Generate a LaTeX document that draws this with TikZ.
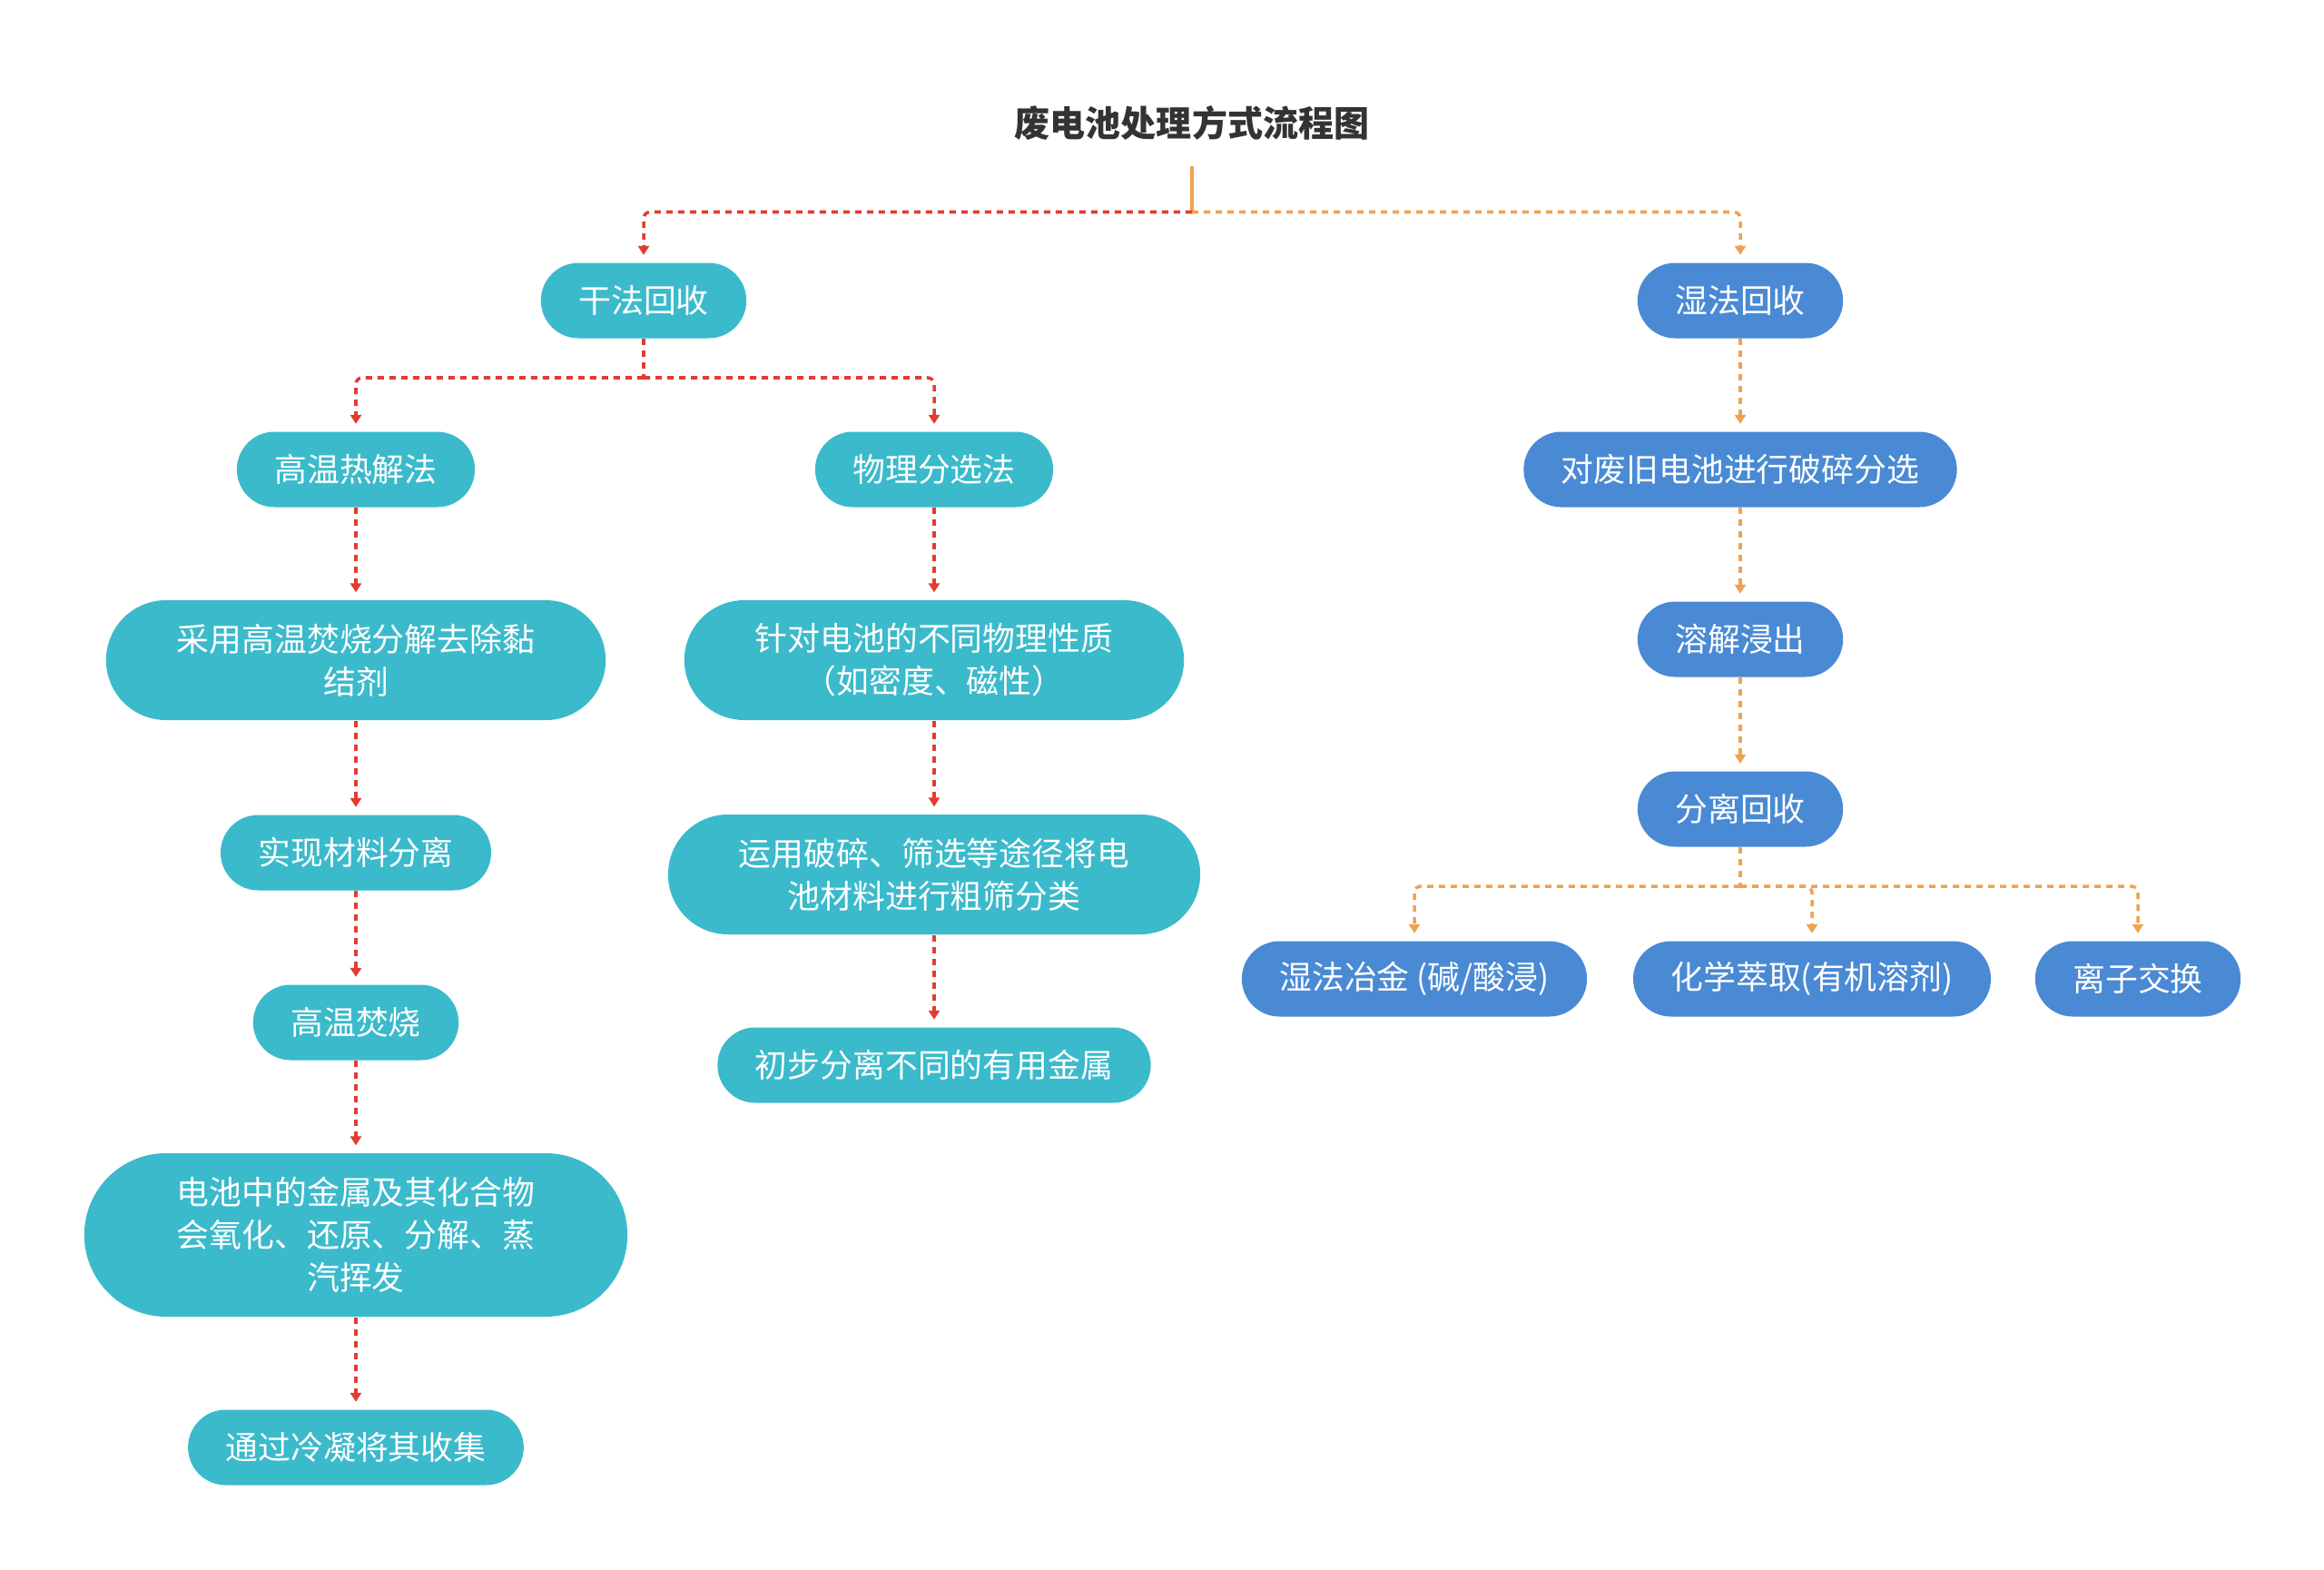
\documentclass[tikz,border=0pt]{standalone}
\usepackage{fontspec}
\setmainfont{Noto Sans CJK SC}
\usepackage{xcolor}
\usepackage{tikz}
\usetikzlibrary{arrows.meta,calc}
\definecolor{drycyan}{RGB}{59, 186, 203}
\definecolor{wetblue}{RGB}{74, 138, 212}
\definecolor{dashred}{RGB}{226, 60, 50}
\definecolor{dashorange}{RGB}{240, 162, 82}
\definecolor{titlegray}{RGB}{51, 51, 51}

\begin{document}
\begin{tikzpicture}[
    box/.style={rectangle, text=white, align=center, font=\fontsize{10.2}{13.4}\selectfont,
        minimum height=0.83cm, inner xsep=0.415cm, inner ysep=0pt, rounded corners=0.415cm},
    tallbox/.style={minimum height=1.32cm, inner xsep=0.78cm, rounded corners=0.66cm},
    hugebox/.style={minimum height=1.8cm, inner xsep=1.02cm, rounded corners=0.9cm},
    drybox/.style={box, fill=drycyan},
    wetbox/.style={box, fill=wetblue},
    link/.style={line width=1pt, dash pattern=on 2pt off 1.7pt, rounded corners=2pt},
    redline/.style={link, dashred},
    orangeline/.style={link, dashorange},
    redlink/.style={redline, -{Triangle[width=3.4pt,length=2.8pt]}, shorten >=0.08cm},
    orangelink/.style={orangeline, -{Triangle[width=3.4pt,length=2.8pt]}, shorten >=0.08cm}
]
    \useasboundingbox (0,0) rectangle (25.6,-17.29);

    % Title and its stem
    \node[font=\fontsize{11.1}{13}\selectfont\bfseries, text=titlegray] (title) at (13.13,-1.355) {废电池处理方式流程图};
    \coordinate (stem) at (13.13,-1.83);
    \coordinate (hub) at (13.13,-2.335);
    \draw[line width=1.2pt, dashorange] (stem) -- (hub);

    % Dry recycling branch
    \node[drybox] (drymethod) at (7.09,-3.31) {干法回收};
    \node[drybox] (pyro) at (3.92,-5.17) {高温热解法};
    \node[drybox] (phys) at (10.29,-5.17) {物理分选法};
    \node[drybox, tallbox] (burnoff) at (3.92,-7.27) {采用高温焚烧分解去除黏\\结剂};
    \node[drybox, tallbox] (property) at (10.29,-7.27) {针对电池的不同物理性质\\（如密度、磁性）};
    \node[drybox] (separate) at (3.92,-9.39) {实现材料分离};
    \node[drybox, tallbox] (sieve) at (10.29,-9.63) {运用破碎、筛选等途径将电\\池材料进行粗筛分类};
    \node[drybox] (incin) at (3.92,-11.26) {高温焚烧};
    \node[drybox] (prelim) at (10.29,-11.73) {初步分离不同的有用金属};
    \node[drybox, hugebox] (react) at (3.92,-13.60) {电池中的金属及其化合物\\会氧化、还原、分解、蒸\\汽挥发};
    \node[drybox] (condense) at (3.92,-15.94) {通过冷凝将其收集};

    % Wet recycling branch
    \node[wetbox] (wetmethod) at (19.17,-3.31) {湿法回收};
    \node[wetbox] (crush) at (19.17,-5.17) {对废旧电池进行破碎分选};
    \node[wetbox] (leach) at (19.17,-7.04) {溶解浸出};
    \node[wetbox] (recover) at (19.17,-8.91) {分离回收};
    \node[wetbox] (hydro) at (15.58,-10.78) {湿法冶金 (碱/酸浸)};
    \node[wetbox] (extract) at (19.96,-10.78) {化学萃取(有机溶剂)};
    \node[wetbox] (ionex) at (23.55,-10.78) {离子交换};

    % Connectors from the title
    \draw[redlink] (hub) -| (drymethod);
    \draw[orangelink] (hub) -| (wetmethod);

    % Dry connectors
    \coordinate (dryhub) at (7.09,-4.16);
    \draw[redline] (drymethod) -- (dryhub);
    \draw[redlink] (dryhub) -| (pyro);
    \draw[redlink] (dryhub) -| (phys);
    \draw[redlink] (pyro) -- (burnoff);
    \draw[redlink] (burnoff) -- (separate);
    \draw[redlink] (separate) -- (incin);
    \draw[redlink] (incin) -- (react);
    \draw[redlink] (react) -- (condense);
    \draw[redlink] (phys) -- (property);
    \draw[redlink] (property) -- (sieve);
    \draw[redlink] (sieve) -- (prelim);

    % Wet connectors
    \coordinate (sephub) at (19.17,-9.76);
    \draw[orangelink] (wetmethod) -- (crush);
    \draw[orangelink] (crush) -- (leach);
    \draw[orangelink] (leach) -- (recover);
    \draw[orangeline] (recover) -- (sephub);
    \draw[orangelink] (sephub) -| (hydro);
    \draw[orangelink] (sephub) -| (extract);
    \draw[orangelink] (sephub) -| (ionex);
\end{tikzpicture}
\end{document}
